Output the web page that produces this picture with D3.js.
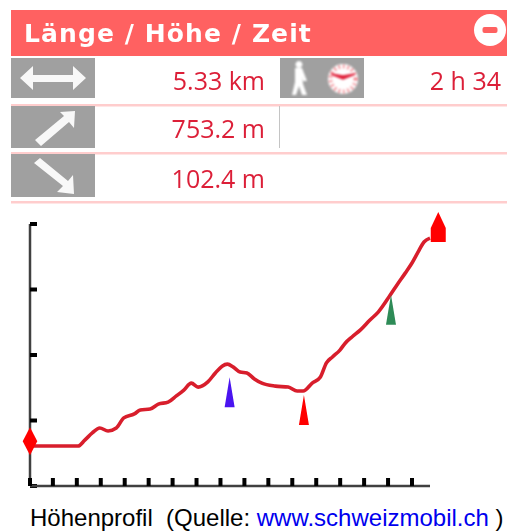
<!DOCTYPE html>
<html>
<head>
<meta charset="utf-8">
<script src="https://cdn.jsdelivr.net/npm/d3@7"></script>
<style>
    html, body { margin: 0; padding: 0; background: #fff; overflow: hidden; }
    svg { display: block; }
</style>
</head>
<body>
<div id="chart"></div>
<script>
const titleText = "Länge / Höhe / Zeit";
const statRows = ["5.33 km", "753.2 m", "102.4 m"];
const timeValue = "2 h 34";
const captionParts = ["Höhenprofil  (Quelle: ", "www.schweizmobil.ch", " )"];

// distance along the route (km) and height above the axis base (m)
const distanceKm = [0, 0.64, 0.73, 0.83, 0.93, 1.04, 1.15, 1.25, 1.39, 1.47, 1.6, 1.71, 1.84, 1.95, 2.05, 2.15, 2.24, 2.37, 2.47, 2.56, 2.63, 2.71, 2.8, 2.89, 2.99, 3.09, 3.27, 3.44, 3.56, 3.64, 3.76, 3.87, 3.95, 4.03, 4.13, 4.2, 4.29, 4.4, 4.53, 4.64, 4.8, 4.89, 5.0, 5.09, 5.17, 5.25, 5.33];
const heightM = [122, 122, 140, 162, 177, 168, 177, 208, 220, 232, 235, 250, 256, 275, 293, 314, 302, 318, 345, 366, 372, 363, 348, 345, 327, 314, 305, 302, 290, 290, 314, 333, 376, 394, 415, 436, 455, 476, 507, 531, 583, 614, 650, 681, 714, 745, 757];

const axisYTicks = [0, 200, 400, 600, 800];
const axisXTicks = [0, 0.305, 0.624, 0.943, 1.262, 1.581, 1.9, 2.219, 2.538, 2.857, 3.176, 3.495, 3.814, 4.133, 4.452, 4.771, 5.09];

const markerKm = [0, 2.66, 3.65, 4.81, 5.44];
const markerM = [137, 332, 278, 584, 800];
const markerKind = ["start", "pass", "pass", "pass", "end"];
const markerColor = ["#ff0000", "#4a14f0", "#ff0000", "#2e8b57", "#ff0000"];

const width = 507, height = 531;
const pink = "#ffcdcd", grey = "#a0a0a0", valueRed = "#dc1f38";

const svg = d3.select("#chart").append("svg")
    .attr("width", width)
    .attr("height", height);

// panel on top, soft like the scaled screenshot
const panel = svg.append("g").style("filter", "blur(0.5px)");

panel.append("rect")
    .attr("x", 11).attr("y", 10)
    .attr("width", width - 11).attr("height", 46)
    .attr("fill", "#ff6161");

panel.append("text")
    .attr("x", 24).attr("y", 42)
    .attr("font-family", "'DejaVu Sans', sans-serif")
    .attr("font-weight", 700)
    .attr("font-size", 25)
    .attr("letter-spacing", 1.1)
    .attr("fill", "#fff")
    .text(titleText);

panel.append("circle").attr("cx", 490).attr("cy", 30).attr("r", 16).attr("fill", "#fff");
panel.append("rect").attr("x", 482.5).attr("y", 27).attr("width", 15).attr("height", 6).attr("rx", 2).attr("fill", "#ff6161");

const rowY = [58, 106, 154];
const rowH = [40, 42, 43];
const rowLine = [105, 153, 202];

panel.selectAll(".row-line").data(rowLine).enter().append("rect")
    .attr("class", "row-line")
    .attr("x", 11).attr("y", (d) => d - 1)
    .attr("width", width - 11).attr("height", 2.5)
    .attr("fill", pink);

panel.selectAll(".icon-cell").data(rowY).enter().append("rect")
    .attr("class", "icon-cell")
    .attr("x", 11).attr("y", (d) => d)
    .attr("width", 84).attr("height", (d, i) => rowH[i])
    .attr("fill", grey);

panel.append("rect").attr("x", 280).attr("y", 58).attr("width", 84).attr("height", 40).attr("fill", grey);
panel.append("line").attr("x1", 279.5).attr("x2", 279.5).attr("y1", 106).attr("y2", 148).attr("stroke", "#c4c4c4");

panel.selectAll(".stat").data(statRows).enter().append("text")
    .attr("class", "stat")
    .attr("x", 265)
    .attr("y", (d, i) => [90, 138, 188][i])
    .attr("text-anchor", "end")
    .attr("font-family", "'Open Sans', 'DejaVu Sans', sans-serif")
    .attr("font-size", 25)
    .attr("fill", valueRed)
    .text((d) => d);

panel.append("text")
    .attr("x", 501).attr("y", 90)
    .attr("text-anchor", "end")
    .attr("font-family", "'Open Sans', 'DejaVu Sans', sans-serif")
    .attr("font-size", 25)
    .attr("fill", valueRed)
    .text(timeValue);

// white arrows in the icon cells
const arrowPaths = [
    "M20,78 L33,66 L33,75 L73,75 L73,66 L86,78 L73,90 L73,82 L33,82 L33,90 Z",
    "M35,140 L64,116 L60,112 L75,111 L74,128 L69,122 L41,146 Z",
    "M34,163 L40,158 L68,181 L73,175 L74,194 L57,192 L63,186 Z"
];
panel.selectAll(".arrow").data(arrowPaths).enter().append("path")
    .attr("class", "arrow")
    .attr("d", (d) => d)
    .attr("fill", "#f8f8f8");

const timeIcons = panel.append("g").style("filter", "blur(0.9px)");

// walker
timeIcons.append("path")
    .attr("d", "M299,61 a3.5,3.5 0 1,1 -0.1,0 M295,68 L302,68 L307,81 L303,81 L302,76 L303,84 L307,95 L302,95 L299,86 L296,95 L292,95 L295,82 Z")
    .attr("fill", "#fff");

// clock
timeIcons.append("circle").attr("cx", 343).attr("cy", 79).attr("r", 15).attr("fill", "#fff");
timeIcons.append("circle").attr("cx", 343).attr("cy", 79).attr("r", 12.5).attr("fill", "none").attr("stroke", "#f2808a").attr("stroke-width", 4).attr("stroke-dasharray", "1.5 3");
timeIcons.append("path").attr("d", "M331,74 L343,79 L355,74 L343,76 Z").attr("fill", "#e0203a").attr("stroke", "#e0203a").attr("stroke-width", 1.5);

// profile
const x = d3.scaleLinear().domain([0, 5.33]).range([30, 430]);
const y = d3.scaleLinear().domain([0, 800]).range([486, 224]);

const chart = svg.append("g").style("filter", "blur(0.4px)");

const yAxis = d3.axisRight(y).tickValues(axisYTicks).tickSize(7).tickSizeOuter(0).tickFormat("").offset(0);
const xAxis = d3.axisTop(x).tickValues(axisXTicks).tickSize(8).tickSizeOuter(0).tickFormat("").offset(0);

const yG = chart.append("g").attr("transform", `translate(${x(0)},0)`).call(yAxis);
const xG = chart.append("g").attr("transform", `translate(0,${y(0)})`).call(xAxis);

[yG, xG].forEach((g) => {
    g.select(".domain").attr("stroke", "#404040").attr("stroke-width", 2.5);
    g.selectAll(".tick line").attr("stroke", "#000").style("stroke-width", "4px");
});

const line = d3.line()
    .x((d) => x(d.km))
    .y((d) => y(d.m))
    .curve(d3.curveMonotoneX);

chart.append("path")
    .datum(distanceKm.map((km, i) => ({ km: km, m: heightM[i] })))
    .attr("d", line)
    .attr("fill", "none")
    .attr("stroke", "#d81e2c")
    .attr("stroke-width", 3.6)
    .attr("stroke-linejoin", "round");

const markerShape = {
    start: "M0,-14 L7.3,0 L0,14 L-7.3,0 Z",
    pass: "M0,0 L5,30 L-5,30 Z",
    end: "M0,-12 L7.5,4 L7.5,18 L-7.5,18 L-7.5,4 Z"
};

chart.selectAll(".marker").data(markerKm).enter().append("path")
    .attr("class", "marker")
    .attr("transform", (d, i) => `translate(${x(d)},${y(markerM[i])})`)
    .attr("d", (d, i) => markerShape[markerKind[i]])
    .attr("fill", (d, i) => markerColor[i]);

// caption, just high enough that the descenders stay in the window
const caption = svg.append("text")
    .attr("x", 30).attr("y", 525.5)
    .attr("font-family", "'Liberation Sans', Arial, sans-serif")
    .attr("font-size", 24)
    .attr("fill", "#000")
    .style("white-space", "pre");

caption.selectAll("tspan").data(captionParts).enter().append("tspan")
    .attr("fill", (d, i) => i === 1 ? "#0000ee" : "#000")
    .text((d) => d);
</script>
</body>
</html>
